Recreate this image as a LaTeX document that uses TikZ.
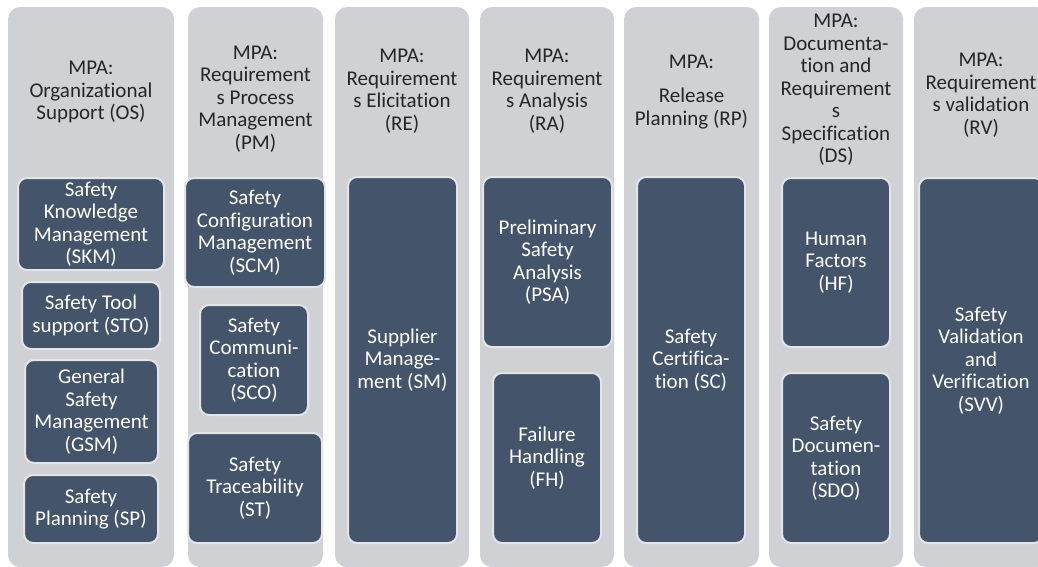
\documentclass[tikz,border=0pt]{standalone}
\usepackage{fontspec}
\setmainfont{Carlito}[Ligatures=NoCommon]
\usepackage{xcolor}
\usepackage{tikz}

\definecolor{colgrey}{HTML}{D0D1D5}
\definecolor{boxblue}{HTML}{44546A}
\definecolor{boxedge}{HTML}{E4E5E8}

\begin{document}
\begin{tikzpicture}[x=1pt,y=-1pt,
    area/.style={shape=rectangle,fill=colgrey,rounded corners=12pt,minimum height=560,inner sep=0pt},
    head/.style={align=center,text=black!85,font=\fontsize{21}{22.5}\selectfont},
    practice/.style={shape=rectangle,fill=boxblue,draw=boxedge,line width=2pt,rounded corners=9pt,
        text=white,align=center,inner sep=0pt,font=\fontsize{21}{22.5}\selectfont}]
    \useasboundingbox (0,0) rectangle (1038,566);
    \clip (0,0) rectangle (1038,566);
    % process areas
    \node[area,minimum width=166] (os) at (91,287) {};
    \node[area,minimum width=135] (pm) at (255.5,287) {};
    \node[area,minimum width=134] (re) at (402,287) {};
    \node[area,minimum width=134] (ra) at (547,287) {};
    \node[area,minimum width=135] (rp) at (691.5,287) {};
    \node[area,minimum width=134] (ds) at (836,287) {};
    \node[area,minimum width=134] (rv) at (981,287) {};
    \node[head] (osHead) at (91,92) {MPA:\\Organizational\\Support (OS)};
    \node[head] (pmHead) at (255.5,99) {MPA:\\Requirement\\s Process\\Management\\(PM)};
    \node[head] (reHead) at (402,91) {MPA:\\Requirement\\s Elicitation\\(RE)};
    \node[head] (raHead) at (547,91) {MPA:\\Requirement\\s Analysis\\(RA)};
    \node[head] (rpHead) at (691.5,92) {MPA:\\[12pt]Release\\Planning (RP)};
    \node[head] (dsHead) at (836,90) {MPA:\\Documenta-\\tion and\\Requirement\\s\\Specification\\(DS)};
    \node[head] (rvHead) at (981,95) {MPA:\\Requirement\\s validation\\(RV)};
    % practices
    \node[practice,minimum width=146,minimum height=92] (skm) at (91,224) {Safety\\Knowledge\\Management\\(SKM)};
    \node[practice,minimum width=138,minimum height=67] (sto) at (91,315.5) {Safety Tool\\support (STO)};
    \node[practice,minimum width=133,minimum height=103] (gsm) at (91.5,411.5) {General\\Safety\\Management\\(GSM)};
    \node[practice,minimum width=134,minimum height=68] (sp) at (91,509) {Safety\\Planning (SP)};
    \node[practice,minimum width=140,minimum height=109] (scm) at (255,232.5) {Safety\\Configuration\\Management\\(SCM)};
    \node[practice,minimum width=108,minimum height=110] (sco) at (254,360) {Safety\\Communi-\\cation\\(SCO)};
    \node[practice,minimum width=134,minimum height=110] (st) at (255,488) {Safety\\Traceability\\(ST)};
    \node[practice,minimum width=109,minimum height=366] (sm) at (402.5,360) {Supplier\\Manage-\\ment (SM)};
    \node[practice,minimum width=129,minimum height=170] (psa) at (547.5,262) {Preliminary\\Safety\\Analysis\\(PSA)};
    \node[practice,minimum width=108,minimum height=170] (fh) at (547,458) {Failure\\Handling\\(FH)};
    \node[practice,minimum width=108,minimum height=366] (sc) at (691,360) {Safety\\Certifica-\\tion (SC)};
    \node[practice,minimum width=108,minimum height=169] (hf) at (836,262.5) {Human\\Factors\\(HF)};
    \node[practice,minimum width=108,minimum height=170] (sdo) at (836,458) {Safety\\Documen-\\tation\\(SDO)};
    \node[practice,minimum width=124,minimum height=365] (svv) at (981,360.5) {Safety\\Validation\\and\\Verification\\(SVV)};
\end{tikzpicture}
\end{document}
